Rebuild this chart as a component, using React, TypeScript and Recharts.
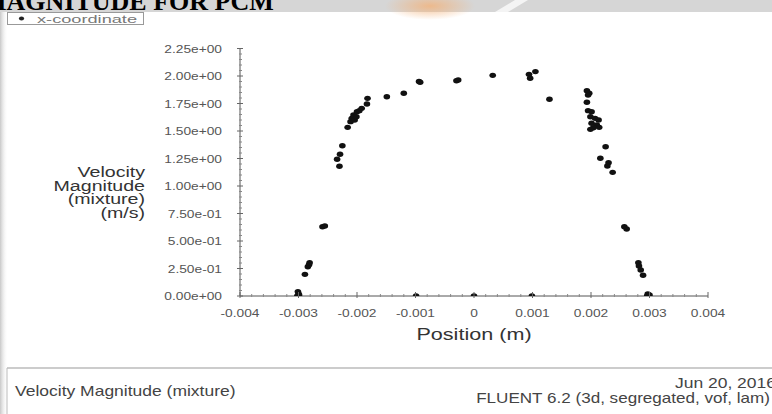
import React from 'react';
import { ScatterChart, Scatter, XAxis, YAxis } from 'recharts';

// x-coordinate (m) and velocity magnitude (m/s)
const positions = [
  -0.00302, -0.003, -0.00301, -0.00299, -0.00289, -0.00284, -0.00282, -0.00281,
  -0.00259, -0.00255, -0.0023, -0.00234, -0.00229, -0.00225, -0.00216, -0.00211,
  -0.00209, -0.00206, -0.00204, -0.00201, -0.002, -0.00196, -0.00192, -0.00183,
  -0.00182, -0.00149, -0.0012, -0.00094, -0.00092, -0.0003, -0.00027, 0.00032,
  0.00094, 0.00096, 0.00105, 0.00129, 0.00193, 0.00197, 0.00195, 0.00193,
  0.00195, 0.00201, 0.00199, 0.00207, 0.00213, 0.00201, 0.0021, 0.00204,
  0.00214, 0.00199, 0.00225, 0.00216, 0.0023, 0.00228, 0.00237, 0.00257,
  0.00261, 0.00281, 0.00282, 0.00285, 0.00289, 0.00297, 0.00296, 0.003,
  -0.00099, 0, 0.00099,
];
const velocities = [
  0.0, 0.02, 0.04, 0.01, 0.197, 0.266, 0.285, 0.303,
  0.63, 0.636, 1.18, 1.243, 1.288, 1.366, 1.533, 1.585,
  1.615, 1.645, 1.6, 1.63, 1.675, 1.685, 1.706, 1.745,
  1.797, 1.812, 1.843, 1.95, 1.943, 1.957, 1.964, 2.006,
  2.015, 1.979, 2.04, 1.788, 1.866, 1.843, 1.827, 1.761,
  1.685, 1.675, 1.63, 1.615, 1.6, 1.57, 1.555, 1.53,
  1.533, 1.515, 1.357, 1.252, 1.212, 1.182, 1.124, 0.63,
  0.609, 0.303, 0.273, 0.236, 0.188, 0.018, 0.0, 0.01,
  0, 0, 0,
];

const xMajorTicks = [-0.004, -0.003, -0.002, -0.001, 0, 0.001, 0.002, 0.003, 0.004];
const xTickLabels = ['-0.004', '-0.003', '-0.002', '-0.001', '0', '0.001', '0.002', '0.003', '0.004'];
const yMajorTicks = [0, 0.25, 0.5, 0.75, 1, 1.25, 1.5, 1.75, 2, 2.25];
const yTickLabels = [
  '0.00e+00', '2.50e-01', '5.00e-01', '7.50e-01', '1.00e+00',
  '1.25e+00', '1.50e+00', '1.75e+00', '2.00e+00', '2.25e+00',
];
const yTitleLines = ['Velocity', 'Magnitude', '(mixture)', '(m/s)'];

const data = positions.map((x, i) => ({ x, v: velocities[i] }));

// major ticks split into 5 parts for the little minor marks
const withMinor = (majors: number[]) => {
  const out: number[] = [];
  majors.forEach((m, i) => {
    out.push(m);
    if (i < majors.length - 1) {
      const step = (majors[i + 1] - m) / 5;
      for (let k = 1; k < 5; k++) out.push(m + step * k);
    }
  });
  return out;
};

const font = '"Liberation Sans", Arial, sans-serif';
const findMajor = (list: number[], v: number) => list.findIndex((t) => Math.abs(t - v) < 1e-9);

const XTick = (props: any) => {
  const { x, y, payload } = props;
  const idx = findMajor(xMajorTicks, payload.value);
  if (idx < 0) return <line x1={x} x2={x} y1={y - 2} y2={y + 1} stroke="#888" />;
  return (
    <g>
      <line x1={x} x2={x} y1={y - 4} y2={y + 2} stroke="#666" />
      <text
        transform={`translate(${x},${y + 21}) scale(1.25,1)`}
        textAnchor="middle"
        fontSize={11}
        fontFamily={font}
        fill="#555"
      >
        {xTickLabels[idx]}
      </text>
    </g>
  );
};

const YTick = (props: any) => {
  const { x, y, payload } = props;
  const idx = findMajor(yMajorTicks, payload.value);
  if (idx < 0) return <line x1={x - 1} x2={x + 2} y1={y} y2={y} stroke="#888" />;
  return (
    <g>
      <line x1={x - 3} x2={x + 3} y1={y} y2={y} stroke="#666" />
      <text
        transform={`translate(${x - 18},${y + 4}) scale(1.25,1)`}
        textAnchor="end"
        fontSize={11}
        fontFamily={font}
        fill="#555"
      >
        {yTickLabels[idx]}
      </text>
    </g>
  );
};

const Dot = (props: any) => <ellipse cx={props.cx} cy={props.cy} rx={3.3} ry={2.7} fill="#111" />;

export default function App() {
  return (
    <div
      style={{
        position: 'absolute',
        left: 0,
        top: 0,
        width: 772,
        height: 414,
        background: '#fff',
        overflow: 'hidden',
      }}
    >
      <svg width={772} height={414} style={{ position: 'absolute', left: 0, top: 0 }}>
        <defs>
          <linearGradient id="edge" x1="0" y1="0" x2="1" y2="0">
            <stop offset="0%" stopColor="#c8c8c8" />
            <stop offset="100%" stopColor="#ffffff" stopOpacity={0} />
          </linearGradient>
          <radialGradient id="orange">
            <stop offset="0%" stopColor="#f2b27a" stopOpacity={0.8} />
            <stop offset="100%" stopColor="#f2b27a" stopOpacity={0} />
          </radialGradient>
        </defs>
        <rect x={0} y={0} width={772} height={12} fill="#d6d6d6" />
        <ellipse cx={430} cy={6} rx={45} ry={14} fill="url(#orange)" />
        <path d="M495 12 L515 0 L528 0 L508 12 Z" fill="#f4f4f4" />
        <rect x={0} y={12} width={8} height={402} fill="url(#edge)" />
        <text x={-18} y={10} fontSize={26} fontWeight="bold" fontFamily='"Liberation Serif", serif' fill="#000">
          MAGNITUDE FOR PCM
        </text>

        <rect x={7.5} y={12.5} width={136} height={12} fill="#fff" stroke="#999" />
        <ellipse cx={21.5} cy={18.5} rx={2.6} ry={2} fill="#222" />
        <text
          x={37}
          y={22.5}
          fontSize={10}
          fontFamily={font}
          fill="#777"
          textLength={100}
          lengthAdjust="spacingAndGlyphs"
        >
          x-coordinate
        </text>

        {yTitleLines.map((line, i) => (
          <text
            key={line}
            transform={`translate(145,${177 + i * 13.5}) scale(1.4,1)`}
            textAnchor="end"
            fontSize={14}
            fontFamily={font}
            fill="#333"
          >
            {line}
          </text>
        ))}
        <text
          transform="translate(474,340) scale(1.35,1)"
          textAnchor="middle"
          fontSize={16}
          fontFamily={font}
          fill="#333"
        >
          Position (m)
        </text>

        <line x1={7} y1={368} x2={772} y2={368} stroke="#999" />
        <line x1={7} y1={368} x2={7} y2={414} stroke="#bbb" />
        <text transform="translate(15,396) scale(1.25,1)" fontSize={14} fontFamily={font} fill="#444">
          Velocity Magnitude (mixture)
        </text>
        <text
          transform="translate(776,388) scale(1.25,1)"
          textAnchor="end"
          fontSize={14}
          fontFamily={font}
          fill="#444"
        >
          Jun 20, 2016
        </text>
        <text
          transform="translate(770,403) scale(1.22,1)"
          textAnchor="end"
          fontSize={14}
          fontFamily={font}
          fill="#444"
        >
          FLUENT 6.2 (3d, segregated, vof, lam)
        </text>
      </svg>

      <div style={{ position: 'absolute', left: 0, top: 0 }}>
        <ScatterChart width={772} height={414} margin={{ top: 48.5, right: 64, bottom: 0, left: 0 }}>
          <XAxis
            type="number"
            dataKey="x"
            domain={[-0.004, 0.004]}
            ticks={withMinor(xMajorTicks)}
            interval={0}
            tick={<XTick />}
            tickLine={false}
            tickSize={0}
            tickMargin={0}
            axisLine={{ stroke: '#555' }}
            height={118}
            allowDataOverflow
          />
          <YAxis
            type="number"
            dataKey="v"
            domain={[0, 2.25]}
            ticks={withMinor(yMajorTicks)}
            interval={0}
            tick={<YTick />}
            tickLine={false}
            tickSize={0}
            tickMargin={0}
            axisLine={{ stroke: '#555' }}
            width={240}
            allowDataOverflow
          />
          <Scatter data={data} shape={<Dot />} isAnimationActive={false} />
        </ScatterChart>
      </div>
    </div>
  );
}
